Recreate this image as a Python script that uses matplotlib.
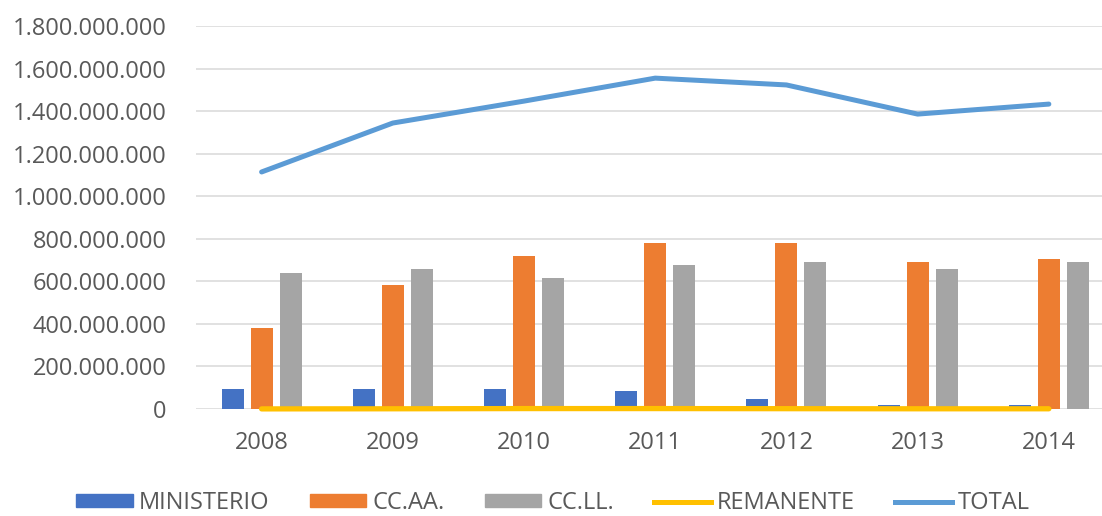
import numpy as np
import matplotlib
matplotlib.use("Agg")
import matplotlib.pyplot as plt
from matplotlib.patches import Patch
from matplotlib.lines import Line2D
from matplotlib.ticker import FuncFormatter

# ---------------------------------------------------------------------------
# Data (in euros)
# ---------------------------------------------------------------------------
YEARS = ["2008", "2009", "2010", "2011", "2012", "2013", "2014"]
MINISTERIO = [94e6, 94e6, 94e6, 85e6, 45e6, 20e6, 20e6]
CCAA = [381e6, 584e6, 720e6, 781e6, 778e6, 692e6, 706e6]
CCLL = [640e6, 659e6, 616e6, 678e6, 692e6, 659e6, 692e6]
REMANENTE = [0.5e6, 1e6, 2e6, 2e6, 1.5e6, 1e6, 1e6]
TOTAL = [1114e6, 1344e6, 1447e6, 1555e6, 1523e6, 1386e6, 1433e6]

COLORS = {
    "ministerio": "#4472C4",
    "ccaa": "#ED7D31",
    "ccll": "#A5A5A5",
    "remanente": "#FFC000",
    "total": "#5B9BD5",
}
TEXT = "#595959"

plt.rcParams.update({
    "font.family": ["Open Sans", "DejaVu Sans"],
    "font.size": 17,
})

fig = plt.figure(figsize=(11.02, 5.16), dpi=100)
ax = fig.add_axes([196 / 1102, 107 / 516, 906 / 1102, 383 / 516])

x = np.arange(len(YEARS))
w = 0.168
off = 0.221
ax.bar(x - off, MINISTERIO, w, color=COLORS["ministerio"], zorder=2)
ax.bar(x, CCAA, w, color=COLORS["ccaa"], zorder=2)
ax.bar(x + off, CCLL, w, color=COLORS["ccll"], zorder=2)
ax.plot(x, REMANENTE, color=COLORS["remanente"], lw=3.8, zorder=3,
        solid_capstyle="round", clip_on=False)
ax.plot(x, TOTAL, color=COLORS["total"], lw=3.6, zorder=3,
        solid_capstyle="round", solid_joinstyle="round")

ax.set_xlim(-0.5, 6.405)
ax.set_ylim(0, 1.8e9)
ax.set_yticks(np.arange(0, 1.8e9 + 1, 2e8))
ax.yaxis.set_major_formatter(
    FuncFormatter(lambda v, p: f"{int(round(v)):,}".replace(",", ".")))
ax.set_xticks(x)
ax.set_xticklabels(YEARS)
ax.tick_params(axis="both", length=0, colors=TEXT, labelsize=17)
ax.tick_params(axis="y", pad=21)
ax.tick_params(axis="x", pad=16)
ax.grid(axis="y", color="#D9D9D9", lw=1.1, zorder=0)
for s in ax.spines.values():
    s.set_visible(False)

handles = [
    Patch(color=COLORS["ministerio"], label="MINISTERIO"),
    Patch(color=COLORS["ccaa"], label="CC.AA."),
    Patch(color=COLORS["ccll"], label="CC.LL."),
    Line2D([], [], color=COLORS["remanente"], lw=3.6, label="REMANENTE"),
    Line2D([], [], color=COLORS["total"], lw=3.6, label="TOTAL"),
]
leg = fig.legend(handles=handles, loc="center", ncol=5,
                 bbox_to_anchor=(553 / 1102, 13 / 516),
                 frameon=False, fontsize=17, handlelength=2.4,
                 handleheight=0.45, handletextpad=0.25, columnspacing=1.7,
                 borderaxespad=0)
for t in leg.get_texts():
    t.set_color(TEXT)

fig.savefig("out.png", dpi=100)
